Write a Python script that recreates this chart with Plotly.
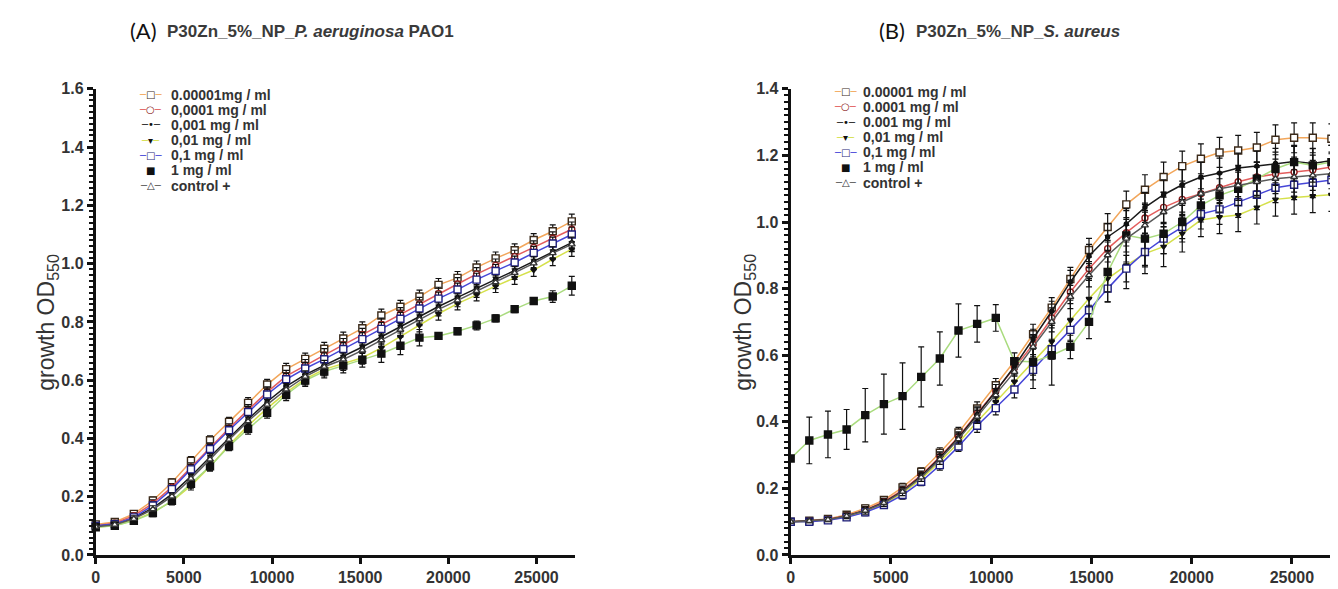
import plotly.graph_objects as go

W, H = 1338, 589

# ---------------- data ----------------
# Panel A : P. aeruginosa PAO1  (time in s)
A_time = [0, 1080, 2160, 3240, 4320, 5400, 6480, 7560, 8640, 9720, 10800, 11880, 12960,
          14040, 15120, 16200, 17280, 18360, 19440, 20520, 21600, 22680, 23760, 24840,
          25920, 27000]
A_labels = ["0.00001mg / ml", "0,0001 mg / ml", "0,001 mg / ml", "0,01 mg / ml",
            "0,1 mg / ml", "1 mg / ml", "control +"]
A_1e5 = [0.105, 0.113, 0.141, 0.187, 0.249, 0.323, 0.394, 0.457, 0.522, 0.585, 0.638, 0.673, 0.708,
         0.743, 0.778, 0.822, 0.852, 0.887, 0.927, 0.951, 0.987, 1.018, 1.046, 1.081, 1.111, 1.145]
A_1e4 = [0.100, 0.109, 0.135, 0.177, 0.233, 0.301, 0.370, 0.435, 0.498, 0.559, 0.614, 0.651, 0.686,
         0.721, 0.756, 0.791, 0.827, 0.862, 0.897, 0.930, 0.964, 0.994, 1.024, 1.056, 1.087, 1.118]
A_1e3 = [0.098, 0.105, 0.127, 0.161, 0.209, 0.270, 0.336, 0.402, 0.466, 0.526, 0.579, 0.619, 0.651,
         0.681, 0.714, 0.749, 0.784, 0.818, 0.853, 0.884, 0.916, 0.946, 0.976, 1.008, 1.041, 1.072]
A_1e2 = [0.095, 0.101, 0.119, 0.147, 0.184, 0.238, 0.304, 0.377, 0.444, 0.503, 0.557, 0.604, 0.637,
         0.656, 0.677, 0.711, 0.749, 0.788, 0.828, 0.863, 0.894, 0.923, 0.951, 0.978, 1.015, 1.050]
A_1e1 = [0.100, 0.106, 0.129, 0.170, 0.226, 0.294, 0.364, 0.428, 0.491, 0.551, 0.603, 0.640, 0.672,
         0.707, 0.741, 0.776, 0.811, 0.846, 0.880, 0.911, 0.945, 0.975, 1.004, 1.037, 1.069, 1.100]
A_1 = [0.095, 0.100, 0.117, 0.144, 0.186, 0.244, 0.304, 0.373, 0.433, 0.488, 0.550, 0.599, 0.630,
       0.650, 0.670, 0.691, 0.718, 0.746, 0.752, 0.768, 0.788, 0.812, 0.844, 0.872, 0.887, 0.924]
A_ctrl = [0.097, 0.104, 0.124, 0.157, 0.201, 0.262, 0.328, 0.396, 0.459, 0.516, 0.568, 0.612, 0.646,
          0.671, 0.702, 0.737, 0.773, 0.809, 0.843, 0.874, 0.906, 0.936, 0.968, 1.001, 1.036, 1.066]
A_err = [0.010, 0.010, 0.010, 0.012, 0.012, 0.015, 0.015, 0.015, 0.018, 0.018, 0.020, 0.020, 0.022,
         0.022, 0.022, 0.022, 0.022, 0.022, 0.022, 0.022, 0.022, 0.022, 0.022, 0.022, 0.022, 0.025]
A_err_1 = [0.010, 0.010, 0.010, 0.012, 0.012, 0.015, 0.015, 0.015, 0.018, 0.018, 0.020, 0.020, 0.022,
           0.025, 0.025, 0.030, 0.030, 0.028, 0.010, 0.012, 0.015, 0.012, 0.012, 0.010, 0.020, 0.032]

# Panel B : S. aureus  (time in s)
B_time = [0, 930, 1860, 2790, 3720, 4650, 5580, 6510, 7440, 8370, 9300, 10230,
          11160, 12090, 13020, 13950, 14880, 15810, 16740, 17670, 18600, 19530,
          20460, 21390, 22320, 23250, 24180, 25110, 26040, 26970]
B_labels = ["0.00001 mg / ml", "0.0001 mg / ml", "0.001 mg / ml", "0,01 mg / ml",
            "0,1 mg / ml", "1 mg / ml", "control +"]
B_1e5 = [0.100, 0.103, 0.108, 0.121, 0.140, 0.165, 0.203, 0.250, 0.307, 0.368, 0.440, 0.510, 0.582, 0.663, 0.743,
         0.829, 0.916, 0.985, 1.053, 1.097, 1.135, 1.168, 1.190, 1.209, 1.215, 1.224, 1.247, 1.253, 1.253, 1.250]
B_1e4 = [0.100, 0.102, 0.107, 0.118, 0.135, 0.160, 0.195, 0.240, 0.295, 0.355, 0.425, 0.492, 0.562, 0.632, 0.712,
         0.790, 0.860, 0.920, 0.968, 1.012, 1.044, 1.068, 1.085, 1.103, 1.121, 1.135, 1.144, 1.150, 1.156, 1.165]
B_1e3 = [0.100, 0.102, 0.106, 0.117, 0.134, 0.158, 0.192, 0.237, 0.292, 0.352, 0.422, 0.492, 0.566, 0.648, 0.732,
         0.820, 0.898, 0.955, 0.994, 1.044, 1.082, 1.112, 1.135, 1.147, 1.162, 1.168, 1.176, 1.182, 1.176, 1.185]
B_1e2 = [0.100, 0.100, 0.105, 0.115, 0.130, 0.153, 0.186, 0.228, 0.280, 0.337, 0.400, 0.460, 0.520, 0.580, 0.640,
         0.705, 0.770, 0.830, 0.870, 0.905, 0.926, 0.965, 1.006, 1.015, 1.021, 1.044, 1.068, 1.074, 1.078, 1.082]
B_1e1 = [0.100, 0.100, 0.104, 0.113, 0.128, 0.150, 0.180, 0.220, 0.270, 0.326, 0.388, 0.441, 0.497, 0.556, 0.618,
         0.676, 0.735, 0.800, 0.860, 0.910, 0.950, 0.985, 1.024, 1.038, 1.059, 1.082, 1.103, 1.112, 1.118, 1.126]
B_1 = [0.290, 0.344, 0.362, 0.377, 0.420, 0.453, 0.477, 0.535, 0.590, 0.674, 0.694, 0.712, 0.582, 0.580, 0.600,
       0.625, 0.700, 0.850, 0.960, 0.950, 0.965, 1.000, 1.050, 1.080, 1.100, 1.130, 1.160, 1.180, 1.170, 1.180]
B_ctrl = [0.100, 0.102, 0.106, 0.117, 0.133, 0.156, 0.190, 0.233, 0.287, 0.348, 0.415, 0.480, 0.550, 0.625, 0.700,
          0.775, 0.840, 0.900, 0.950, 0.990, 1.030, 1.060, 1.085, 1.100, 1.110, 1.120, 1.130, 1.135, 1.140, 1.145]
B_err = [0.005, 0.005, 0.006, 0.008, 0.010, 0.010, 0.012, 0.012, 0.015, 0.015, 0.020, 0.020, 0.025, 0.030, 0.030,
         0.035, 0.035, 0.040, 0.040, 0.045, 0.045, 0.045, 0.045, 0.045, 0.045, 0.045, 0.045, 0.045, 0.045, 0.045]
B_err_1e2 = [0.005, 0.005, 0.006, 0.008, 0.010, 0.010, 0.012, 0.012, 0.015, 0.015, 0.020, 0.025, 0.030, 0.040, 0.050,
             0.060, 0.060, 0.070, 0.070, 0.060, 0.060, 0.055, 0.050, 0.050, 0.050, 0.050, 0.050, 0.050, 0.050, 0.050]
B_err_1 = [0.000, 0.070, 0.070, 0.060, 0.080, 0.090, 0.100, 0.090, 0.080, 0.080, 0.055, 0.040, 0.000, 0.080, 0.090,
           0.035, 0.050, 0.060, 0.080, 0.080, 0.060, 0.050, 0.050, 0.050, 0.050, 0.050, 0.050, 0.050, 0.050, 0.050]

x_ticks = [0, 5000, 10000, 15000, 20000, 25000]

# ---------------- styles ----------------
STYLES = [
    dict(line="#F2A65A", symbol="square", size=7, fill="#FFFFFF", edge="#3B2A1A", glyph="□"),
    dict(line="#E35D5D", symbol="circle", size=6, fill="#FFFFFF", edge="#8A1C1C", glyph="○"),
    dict(line="#1A1A1A", symbol="circle", size=4, fill="#111111", edge="#111111", glyph="•"),
    dict(line="#D5E04A", symbol="triangle-down", size=5, fill="#111111", edge="#111111", glyph="▾"),
    dict(line="#4646D8", symbol="square", size=7, fill="#FFFFFF", edge="#1E1E7A", glyph="□"),
    dict(line="#A9DB7E", symbol="square", size=7, fill="#111111", edge="#111111", glyph="■"),
    dict(line="#5A5A5A", symbol="triangle-up", size=6, fill="#FFFFFF", edge="#333333", glyph="△"),
]

A_series = [A_1e5, A_1e4, A_1e3, A_1e2, A_1e1, A_1, A_ctrl]
A_errs = [A_err, A_err, A_err, A_err, A_err, A_err_1, A_err]
B_series = [B_1e5, B_1e4, B_1e3, B_1e2, B_1e1, B_1, B_ctrl]
B_errs = [B_err, B_err, B_err, B_err_1e2, B_err, B_err_1, B_err]

fig = go.Figure()


def add_panel(times, series, errs, labels, xa, ya, clip):
    for vals, err, lab, st in zip(series, errs, labels, STYLES):
        fig.add_trace(go.Scatter(
            x=times, y=vals, xaxis=xa, yaxis=ya, name=lab,
            mode="lines+markers", cliponaxis=clip, showlegend=False,
            line=dict(color=st["line"], width=1.5),
            marker=dict(symbol=st["symbol"], size=st["size"], color=st["fill"],
                        line=dict(color=st["edge"], width=1.4)),
            error_y=dict(type="data", array=err, visible=True, color="#111111",
                         thickness=1.2, width=3),
        ))


add_panel(A_time, A_series, A_errs, A_labels, "x", "y", False)
add_panel(B_time, B_series, B_errs, B_labels, "x2", "y2", True)


def px(x):
    return x / W


def py(y):
    return 1 - y / H


TOP, BOT = 75, 555
TICKFONT = dict(family="Liberation Sans", size=16, color="#333333", weight="bold")
ydom = [py(BOT), py(TOP)]

common_x = dict(range=[0, 27200], tickvals=x_ticks, tickformat="d", ticks="outside",
                ticklen=6, tickwidth=2.5, tickcolor="#111111", showline=True, linewidth=3,
                linecolor="#111111", showgrid=False, zeroline=False, tickfont=TICKFONT)
common_y = dict(dtick=0.2, tick0=0, tickformat=".1f", ticks="outside", ticklen=6, tickwidth=2.5,
                tickcolor="#111111", showline=True, linewidth=3, linecolor="#111111",
                showgrid=False, zeroline=False, tickfont=TICKFONT,
                minor=dict(dtick=0.02, ticks="outside", ticklen=4, tickwidth=1.5, tickcolor="#111111"))

fig.update_layout(
    width=W, height=H, margin=dict(l=0, r=0, t=0, b=0),
    paper_bgcolor="white", plot_bgcolor="white", showlegend=False,
    xaxis=dict(domain=[px(84), px(565)], anchor="y", **common_x),
    yaxis=dict(domain=ydom, anchor="x", range=[0, 1.6], **common_y),
    xaxis2=dict(domain=[px(781), px(1328)], anchor="y2", **common_x),
    yaxis2=dict(domain=ydom, anchor="x2", range=[0, 1.4], **common_y),
)

annotations = []

# titles
for tag, tx, bold_x, text in [("(A)", 116, 153, "P30Zn_5%_NP_<i>P. aeruginosa</i> PAO1"),
                              ("(B)", 868, 905, "P30Zn_5%_NP_<i>S. aureus</i>")]:
    annotations.append(dict(text=tag, x=px(tx), y=py(15), xref="paper", yref="paper",
                            xanchor="left", yanchor="middle", showarrow=False,
                            font=dict(family="Lato", size=22, color="#111111")))
    annotations.append(dict(text=text, x=px(bold_x), y=py(16), xref="paper", yref="paper",
                            xanchor="left", yanchor="middle", showarrow=False,
                            font=dict(family="Liberation Sans", size=17, color="#3A3A3A",
                                      weight="bold")))

# y-axis titles
for xt in (36, 735):
    annotations.append(dict(text="growth OD<sub>550</sub>", x=px(xt), y=py(315), xref="paper",
                            yref="paper", xanchor="center", yanchor="middle", textangle=-90,
                            showarrow=False,
                            font=dict(family="Liberation Sans", size=23, color="#333333")))

# legends (drawn as text rows)
for labels, key_x, text_x, y0 in [(A_labels, 139, 157, TOP + 6), (B_labels, 836, 852, TOP + 3)]:
    for i, (lab, st) in enumerate(zip(labels, STYLES)):
        yy = y0 + i * 15.6
        if lab == "1 mg / ml":
            key = f'<span style="color:{st["edge"]}">{st["glyph"]}</span>'
        else:
            key = (f'<span style="color:{st["line"]}">─</span>'
                   f'<span style="color:{st["edge"]}">{st["glyph"]}</span>'
                   f'<span style="color:{st["line"]}">─</span>')
        annotations.append(dict(text=key, x=px(key_x), y=py(yy), xref="paper", yref="paper",
                                xanchor="center", yanchor="middle", showarrow=False,
                                font=dict(family="DejaVu Sans", size=10, color="#111111")))
        annotations.append(dict(text=lab, x=px(text_x), y=py(yy), xref="paper", yref="paper",
                                xanchor="left", yanchor="middle", showarrow=False,
                                font=dict(family="Liberation Sans", size=14, color="#333333",
                                          weight="bold")))

fig.update_layout(annotations=annotations)

fig.write_html("out.html")
